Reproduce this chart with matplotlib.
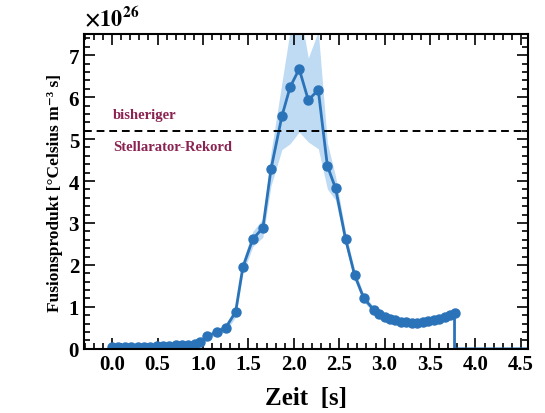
import numpy as np
import matplotlib
matplotlib.use('Agg')
import matplotlib.pyplot as plt
from matplotlib.ticker import MultipleLocator

# Zeitpunkte [s] und Fusionsprodukt [1e26 °C m^-3 s]
t_flat = [0.00, 0.07, 0.14, 0.21, 0.28, 0.35, 0.42, 0.49, 0.56, 0.63,
          0.70, 0.77, 0.84, 0.91, 0.97]
v_flat = [0.04, 0.04, 0.05, 0.05, 0.05, 0.05, 0.05, 0.06, 0.06, 0.07,
          0.08, 0.09, 0.10, 0.12, 0.16]
t_peak = [1.05, 1.15, 1.25, 1.36, 1.44, 1.55, 1.66, 1.75, 1.87, 1.96,
          2.06, 2.16, 2.27, 2.37, 2.46, 2.57, 2.67, 2.77]
v_peak = [0.30, 0.40, 0.50, 0.88, 1.95, 2.62, 2.88, 4.29, 5.55, 6.24,
          6.67, 5.93, 6.17, 4.36, 3.83, 2.62, 1.76, 1.21]
t_tail = [2.88, 2.94, 3.00, 3.06, 3.12, 3.18, 3.24, 3.30, 3.36, 3.42,
          3.48, 3.54, 3.60, 3.66, 3.72, 3.77]
v_tail = [0.93, 0.84, 0.77, 0.72, 0.68, 0.65, 0.63, 0.62, 0.62, 0.64,
          0.66, 0.69, 0.72, 0.76, 0.81, 0.86]
# Unsicherheit (Band)
e_flat = [0.04] * 15
e_peak = [0.06, 0.07, 0.09, 0.12, 0.15, 0.18, 0.22, 0.40, 0.80, 1.35,
          1.50, 1.00, 1.40, 0.55, 0.28, 0.16, 0.12, 0.09]
e_tail = [0.07] * 16
rekord = 5.2

time = np.array(t_flat + t_peak + t_tail)
value = np.array(v_flat + v_peak + v_tail)
err = np.array(e_flat + e_peak + e_tail)

plt.rcParams['font.family'] = ['Liberation Serif', 'DejaVu Serif']
plt.rcParams['font.weight'] = 'bold'
plt.rcParams['mathtext.fontset'] = 'stix'
plt.rcParams['mathtext.default'] = 'bf'

fig = plt.figure(figsize=(5.45, 4.14), dpi=100)
ax = fig.add_axes([0.154, 0.155, 0.815, 0.76])

blue = '#2b73b9'
ax.fill_between(time, value - err, value + err, color='#b3d5f2',
                alpha=0.85, lw=0)
ax.plot(list(time) + [time[-1], 4.3, 4.6], list(value) + [0, 0, 0],
        color=blue, lw=2)
ax.plot(time, value, 'o', color=blue, ms=6.5)
ax.axhline(rekord, color='black', ls='--', lw=1.4, dashes=(4, 2.5))
ax.text(0.01, rekord + 0.22, 'bisheriger', color='#8a2352',
        fontsize=10.5, fontweight='bold', va='bottom')
ax.text(0.01, rekord - 0.22, 'Stellarator-Rekord', color='#8a2352',
        fontsize=10.5, fontweight='bold', va='top')

ax.set_xlim(-0.31, 4.58)
ax.set_ylim(0, 7.5)
ax.xaxis.set_major_locator(MultipleLocator(0.5))
ax.xaxis.set_minor_locator(MultipleLocator(0.1))
ax.yaxis.set_major_locator(MultipleLocator(1))
ax.yaxis.set_minor_locator(MultipleLocator(0.2))
ax.tick_params(which='both', direction='in', top=True, right=True,
               labelsize=15, width=1.2)
ax.tick_params(which='major', length=8)
ax.tick_params(which='minor', length=4)
ax.set_xticks(np.arange(0, 4.51, 0.5))
ax.set_xticklabels(['%.1f' % x for x in np.arange(0, 4.51, 0.5)])
for s in ax.spines.values():
    s.set_linewidth(1.5)

ax.set_xlabel('Zeit  [s]', fontsize=18, fontweight='bold', labelpad=9)
ax.set_ylabel('Fusionsprodukt [°Celsius m\u207b\u00b3 s]',
              fontsize=12.5, fontweight='bold')
ax.text(0.0, 1.01, r'$\times\mathbf{10^{26}}$', transform=ax.transAxes,
        fontsize=16, va='bottom', ha='left')

fig.savefig('out.png', dpi=100)
